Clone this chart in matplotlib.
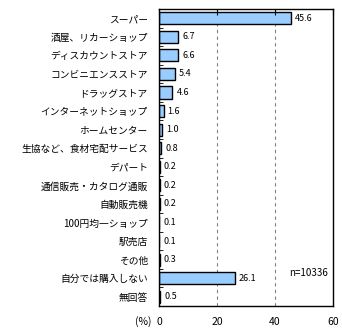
import matplotlib.pyplot as plt

plt.rcParams['font.family'] = ['Noto Sans CJK JP', 'DejaVu Sans']

categories = ['スーパー', '酒屋、リカーショップ', 'ディスカウントストア', 'コンビニエンスストア',
              'ドラッグストア', 'インターネットショップ', 'ホームセンター', '生協など、食材宅配サービス',
              'デパート', '通信販売・カタログ通販', '自動販売機', '100円均一ショップ', '駅売店',
              'その他', '自分では購入しない', '無回答']
values = [45.6, 6.7, 6.6, 5.4, 4.6, 1.6, 1.0, 0.8, 0.2, 0.2, 0.2, 0.1, 0.1, 0.3, 26.1, 0.5]
value_labels = ['45.6', '6.7', '6.6', '5.4', '4.6', '1.6', '1.0', '0.8', '0.2', '0.2',
                '0.2', '0.1', '0.1', '0.3', '26.1', '0.5']
xticks = [0, 20, 40, 60]

fig = plt.figure(figsize=(3.42, 3.36), dpi=100)
ax = fig.add_axes([159 / 342, 1 - 306 / 336, 174 / 342, 297 / 336])

y = list(range(len(categories)))
ax.barh(y, values, height=0.65, color='#99CCFF', edgecolor='black', linewidth=1)
ax.set_ylim(len(categories) - 0.5, -0.5)
ax.set_xlim(0, 60)

for yi, v, lab in zip(y, values, value_labels):
    ax.text(v + 1.4, yi, lab, va='center', ha='left', fontsize=6.5)

for x in [20, 40]:
    ax.axvline(x, color='gray', linestyle=(0, (3, 3)), linewidth=0.8, zorder=0)

ax.set_yticks(y)
ax.set_yticklabels(categories, fontsize=7)
ax.set_yticks([i + 0.5 for i in range(-1, len(categories))], minor=True)
ax.tick_params(axis='y', which='major', length=0, pad=8)
ax.tick_params(axis='y', which='minor', length=3, direction='in')

ax.set_xticks(xticks)
ax.set_xticklabels([str(t) for t in xticks], fontsize=7.5)
ax.tick_params(axis='x', which='major', direction='in', length=4, top=True, bottom=False, pad=8)

for s in ax.spines.values():
    s.set_linewidth(1)

fig.text(152 / 342, 1 - 322 / 336, '(%)', ha='right', va='center', fontsize=7.5)
ax.text(45, 13.7, 'n=10336', ha='left', va='center', fontsize=7)

fig.savefig('out.png', dpi=100)
